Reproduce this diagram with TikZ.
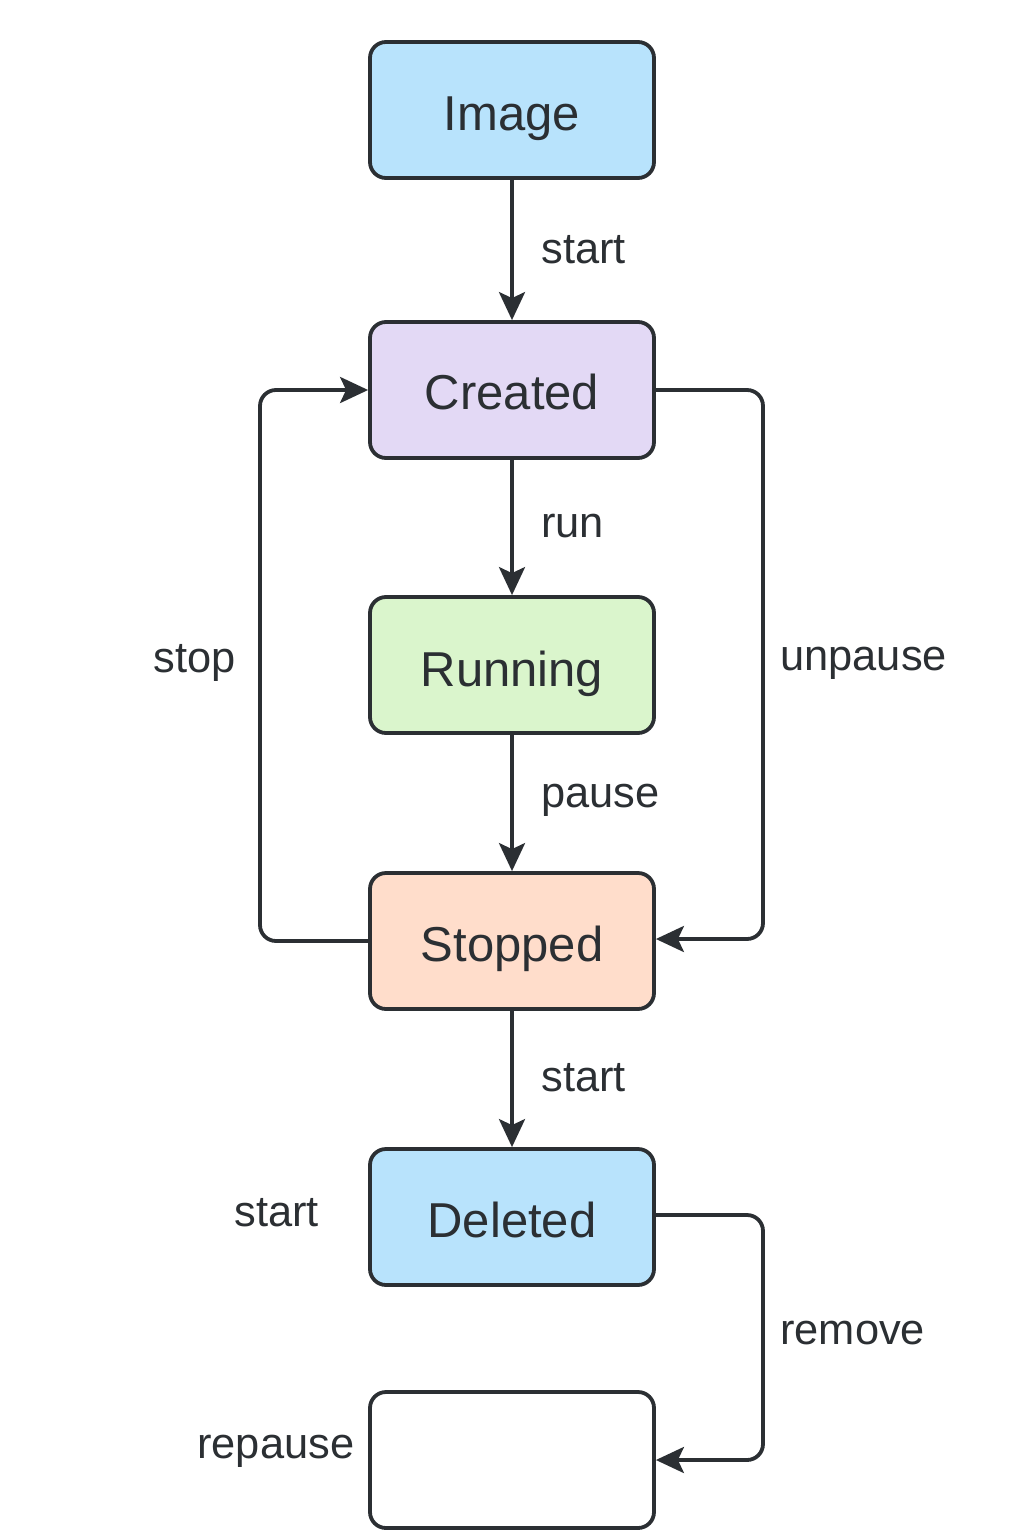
\documentclass[tikz,border=0pt]{standalone}
\usepackage{fontspec}
\setmainfont{Liberation Sans}
\usetikzlibrary{arrows.meta}
\definecolor{ink}{HTML}{2B2F33}
\definecolor{cblue}{HTML}{B8E3FC}
\definecolor{cpurple}{HTML}{E3D9F5}
\definecolor{cgreen}{HTML}{DAF5CC}
\definecolor{corange}{HTML}{FFDDCB}
\begin{document}
\begin{tikzpicture}[x=0.5pt,y=-0.5pt,
  state/.style={draw=ink,line width=1.9pt,rounded corners=8pt,minimum width=142pt,minimum height=68pt,inner sep=0pt,text=ink,font=\fontsize{24.5}{28}\selectfont},
  lbl/.style={text=ink,font=\fontsize{21.7}{26}\selectfont,inner sep=0pt},
  conn/.style={draw=ink,line width=1.9pt,rounded corners=8pt,-{Stealth[length=14pt,width=13pt,inset=3pt]}}]
\useasboundingbox (0,0) rectangle (1024,1536);
\fill[white] (0,0) rectangle (1024,1536);
\node[state,fill=cblue] (image) at (512,110) {};
\node[state,fill=cpurple] (created) at (512,390) {};
\node[state,fill=cgreen] (running) at (512,665) {};
\node[state,fill=corange] (stopped) at (512,941) {};
\node[state,fill=cblue] (deleted) at (512,1217) {};
\node[state,fill=white] (empty) at (512,1460) {};
\node[text=ink,font=\fontsize{24.5}{28}\selectfont,anchor=base] (timage) at (512,131) {Image};
\node[text=ink,font=\fontsize{24.5}{28}\selectfont,anchor=base] (tcreated) at (512,409) {Created};
\node[text=ink,font=\fontsize{24.5}{28}\selectfont,anchor=base] (trunning) at (512,686) {Running};
\node[text=ink,font=\fontsize{24.5}{28}\selectfont,anchor=base] (tstopped) at (512,961) {Stopped};
\node[text=ink,font=\fontsize{24.5}{28}\selectfont,anchor=base] (tdeleted) at (512,1237) {Deleted};
\coordinate (sl) at (260,0);
\coordinate (ur) at (763,0);
\draw[conn] (image) -- (created);
\draw[conn] (created) -- (running);
\draw[conn] (running) -- (stopped);
\draw[conn] (stopped) -- (deleted);
\draw[conn] (stopped.west) -- (stopped.west -| sl) -- (created.west -| sl) -- (created.west);
\draw[conn] (created.east) -- (created.east -| ur) -- ([yshift=1pt]stopped.east -| ur) -- ([yshift=1pt]stopped.east);
\draw[conn] ([yshift=1pt]deleted.east) -- ([yshift=1pt]deleted.east -| ur) -- (empty.east -| ur) -- (empty.east);
\node[lbl,anchor=west] (l1) at (541,250) {start};
\node[lbl,anchor=west] (l2) at (541,526) {run};
\node[lbl,anchor=west] (l3) at (541,800) {pause};
\node[lbl,anchor=west] (l4) at (541,1078) {start};
\node[lbl,anchor=west] (l5) at (153,663) {stop};
\node[lbl,anchor=west] (l6) at (780,663) {unpause};
\node[lbl,anchor=west] (l7) at (780,1333) {remove};
\node[lbl,anchor=west] (l8) at (234,1213) {start};
\node[lbl,anchor=west] (l9) at (197,1451) {repause};
\end{tikzpicture}
\end{document}
